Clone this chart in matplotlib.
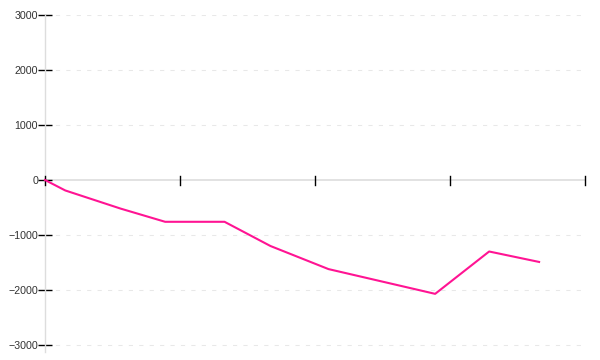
import numpy as np
import matplotlib
matplotlib.use("Agg")
import matplotlib.pyplot as plt

# data
x_vals = [0.0, 0.15, 0.56, 0.89, 1.33, 1.67, 2.10, 2.89, 3.29, 3.66]
y_vals = [0, -190, -520, -760, -760, -1200, -1620, -2070, -1300, -1490]
y_ticks = [-3000, -2000, -1000, 0, 1000, 2000, 3000]
x_ticks = [0, 1, 2, 3, 4]

fig = plt.figure(figsize=(6, 3.6), dpi=100)
# axes box in pixels: x 45..585, y 15..352
ax = fig.add_axes([45/600, (360-352)/360, 540/600, 337/360])
ax.set_xlim(0, 4)
ax.set_ylim(-3000 - 7/55*1000, 3000)

for s in ["top", "right", "bottom"]:
    ax.spines[s].set_visible(False)
ax.spines["left"].set_color("#dddddd")
ax.spines["left"].set_linewidth(1)

# grid lines
for t in y_ticks:
    if t == 0:
        continue
    ax.axhline(t, color="#e8e8e8", lw=0.75, ls=(0, (4, 6)), zorder=0)
ax.axhline(0, color="#dddddd", lw=1.2, zorder=1)

ax.set_yticks(y_ticks)
ax.tick_params(axis="y", direction="inout", length=10, width=1, color="black",
               labelsize=7.7, labelcolor="#333333", pad=0)
for lab in ax.get_yticklabels():
    lab.set_family("Liberation Sans")

ax.set_xticks([])
# x ticks sit on the zero line
for t in x_ticks:
    ax.plot([t, t], [70, -90], color="black", lw=1, clip_on=False, zorder=3)

ax.plot(x_vals, y_vals, color="#ff1493", lw=1.5, zorder=4, clip_on=False)

fig.savefig("out.png", dpi=100)
